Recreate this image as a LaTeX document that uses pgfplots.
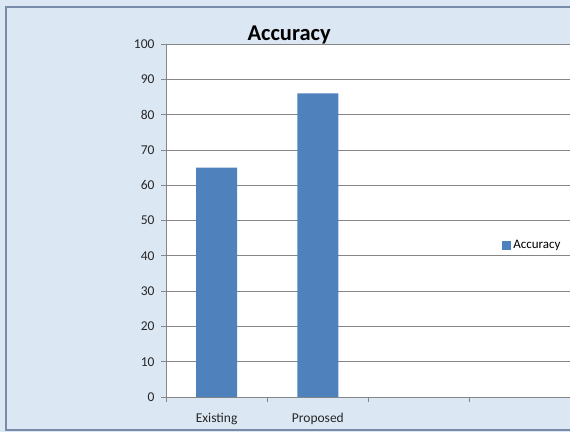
\documentclass[border=0pt]{standalone}
\usepackage{pgfplots}
\pgfplotsset{compat=1.18}
\usepackage{fontspec}
\setmainfont{Carlito}
\definecolor{bg}{RGB}{220,231,244}
\definecolor{barblue}{RGB}{79,129,189}
\definecolor{gridgray}{RGB}{134,134,134}
\definecolor{framec}{RGB}{120,140,170}
\begin{document}
\begin{tikzpicture}[x=1pt,y=1pt]
\path[use as bounding box] (0,0) rectangle (570,432);
\fill[bg] (0,0) rectangle (570,432);
\draw[framec, line width=1.2pt] (6,2) rectangle (600,425);
\begin{axis}[
  at={(166pt,35pt)}, anchor=south west,
  scale only axis, width=405pt, height=353pt,
  xmin=-0.5, xmax=3.5, ymin=0, ymax=100,
  axis background/.style={fill=white},
  axis lines*=left,
  axis line style={gridgray, line width=0.8pt},
  ytick={0,10,...,100},
  ymajorgrids, grid style={gridgray, line width=0.8pt},
  xtick={0,1}, xticklabels={Existing,Proposed},
  minor xtick={-0.5,0.5,1.5,2.5},
  major x tick style={draw=none},
  minor x tick style={gridgray, line width=0.8pt},
  major y tick style={gridgray, line width=0.8pt},
  tick align=outside,
  major tick length=5pt, minor tick length=5pt,
  /pgf/number format/assume math mode=true,
  ticklabel style={font=\fontsize{13.5}{13.5}\selectfont, text=black!85},
  xticklabel style={yshift=-8pt},
  yticklabel style={xshift=-3pt},
  title={\textbf{Accuracy}},
  title style={font=\fontsize{22.5}{22.5}\selectfont, at={(axis description cs:0.304,0.994)}, anchor=base},
  legend style={draw=none, fill=none, at={(axis description cs:0.8225,0.43)}, anchor=west, font=\fontsize{13}{13}\selectfont},
  legend image code/.code={\fill[barblue] (0pt,-4.5pt) rectangle (9pt,4.5pt);},
]
\addplot[ybar, bar width=0.405, fill=barblue, draw=none] coordinates {(0,65) (1,86)};
\addlegendentry{Accuracy}
\end{axis}
\end{tikzpicture}
\end{document}
